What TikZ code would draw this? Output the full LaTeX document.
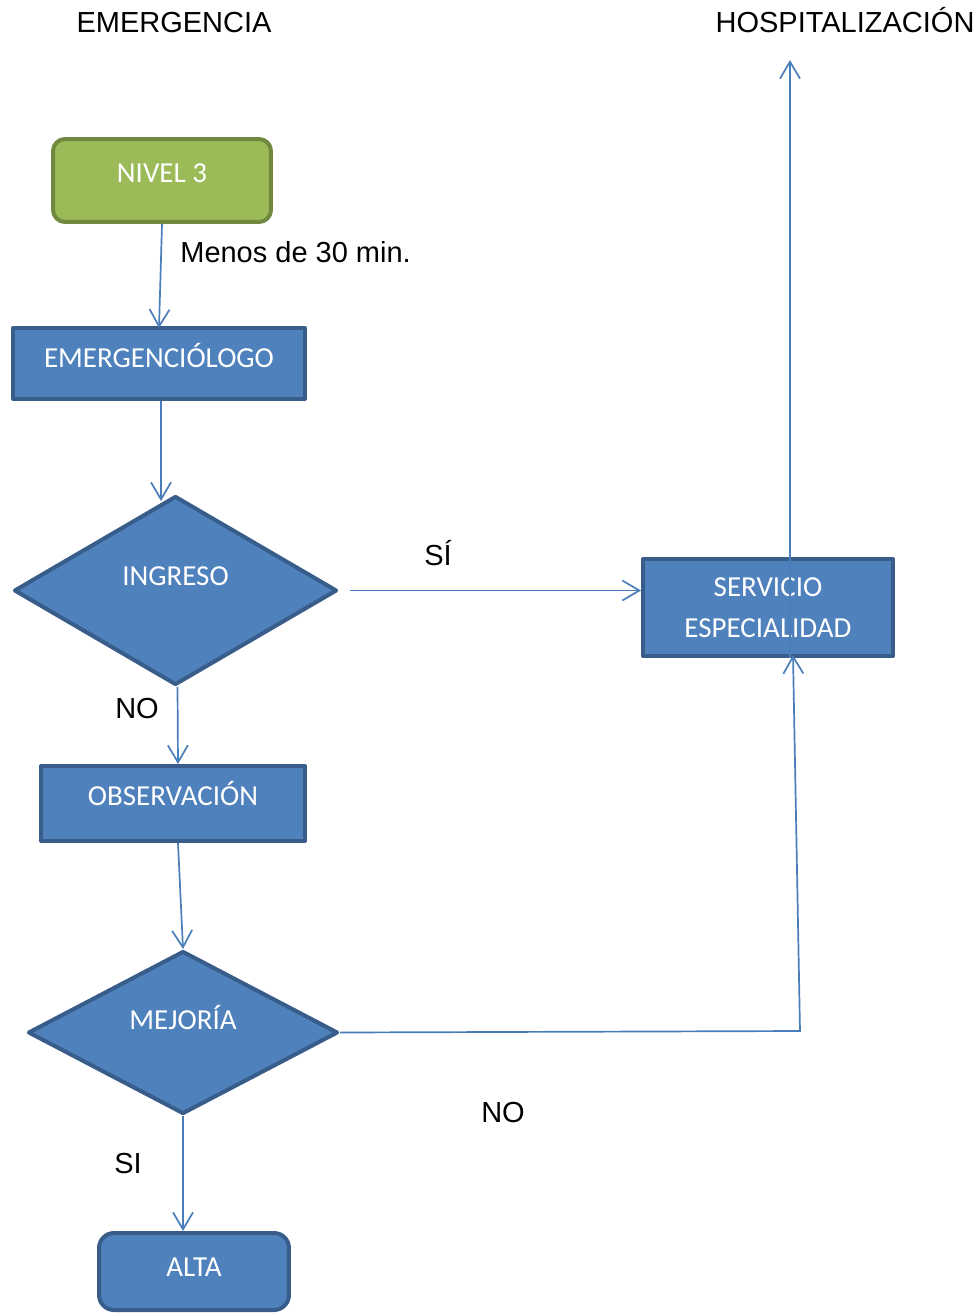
\documentclass[tikz,border=0pt]{standalone}
\usepackage{fontspec}
\setmainfont{Liberation Sans}
\newfontfamily\boxfont{Carlito}
\usetikzlibrary{shapes.geometric,arrows.meta}

\definecolor{boxblue}{HTML}{4F81BD}
\definecolor{boxedge}{HTML}{385D8A}
\definecolor{boxgreen}{HTML}{9BBB59}
\definecolor{greenedge}{HTML}{71893F}
\definecolor{linkblue}{HTML}{4A7EBB}

\tikzset{
	stepbox/.style={rectangle, draw=boxedge, fill=boxblue, line width=0.08cm, line join=round,
		text=white, font=\boxfont\fontsize{16.5}{20}\selectfont, inner sep=0pt},
	decision/.style={diamond, draw=boxedge, fill=boxblue, line width=0.08cm, line join=round,
		text=white, font=\boxfont\fontsize{16.5}{20}\selectfont, inner sep=0pt},
	lift/.style={text height=0.37cm, text depth=#1},
	link/.style={draw=linkblue, line width=0.034cm, -{Straight Barb[length=0.34cm,width=0.4cm]}},
	tag/.style={font=\fontsize{16.5}{20}\selectfont, inner sep=0pt, anchor=base}
}

\begin{document}
\begin{tikzpicture}[x=0.02cm,y=-0.02cm]
	\useasboundingbox (0,0) rectangle (980,1315);
	
	% headings
	\node[tag] (emergencia) at (174,32.5) {EMERGENCIA};
	\node[tag] (hospital) at (845,32.5) {HOSPITALIZACIÓN};
	
	% boxes
	\node[stepbox, fill=boxgreen, draw=greenedge, rounded corners=0.24cm,
		minimum width=4.36cm, minimum height=1.66cm, lift=0.28cm] (nivel) at (162,180.5) {NIVEL 3};
	\node[stepbox, minimum width=5.84cm, minimum height=1.42cm, lift=0.22cm] (emerg) at (159,363.5) {EMERGENCIÓLOGO};
	\node[decision, minimum width=6.46cm, minimum height=3.78cm, lift=0.56cm] (ingreso) at (175.5,590.5) {INGRESO};
	\node[stepbox, minimum width=5cm, minimum height=1.94cm, align=center,
		font=\boxfont\fontsize{16.5}{23.2}\selectfont] (servicio) at (768,607.5) {SERVICIO\\ESPECIALIDAD};
	\node[stepbox, minimum width=5.28cm, minimum height=1.5cm, lift=0.3cm] (obs) at (173,803.5) {OBSERVACIÓN};
	\node[decision, minimum width=6.2cm, minimum height=3.26cm, lift=0.48cm] (mejoria) at (183,1032.5) {MEJORÍA};
	\node[stepbox, rounded corners=0.3cm, minimum width=3.8cm, minimum height=1.54cm, lift=0.18cm] (alta) at (194,1271.5) {ALTA};
	
	\coordinate (top) at (790,60);
	\coordinate (bend) at (800,1031);
	
	% connectors
	\draw[link] (nivel.south) -- ([yshift=-0.04cm]emerg.north);
	\draw[link] ([xshift=0.04cm]emerg.south) -- ([xshift=0.04cm,yshift=-0.14cm]emerg.south |- ingreso.north);
	\draw[link] ([xshift=0.22cm]ingreso.east) -- (servicio.west |- ingreso.east);
	\draw[link] ([xshift=0.04cm]ingreso.south) -- ([xshift=0.1cm]obs.north);
	\draw[link] ([xshift=0.1cm]obs.south) -- (mejoria.north);
	\draw[link] (mejoria.south) -- (mejoria.south |- alta.north);
	\draw[link] (mejoria.east) -- (bend) -- ([xshift=0.5cm,yshift=0.06cm]servicio.south);
	\draw[link] ([xshift=0.44cm]servicio.south) -- (top);
	
	% labels
	\node[tag, anchor=base west] (tiempo) at (180,262.5) {Menos de 30 min.};
	\node[tag] (si1) at (438,565.5) {SÍ};
	\node[tag] (no1) at (137,718.5) {NO};
	\node[tag] (no2) at (503,1122.5) {NO};
	\node[tag] (si2) at (128,1173.5) {SI};
	
\end{tikzpicture}
\end{document}
